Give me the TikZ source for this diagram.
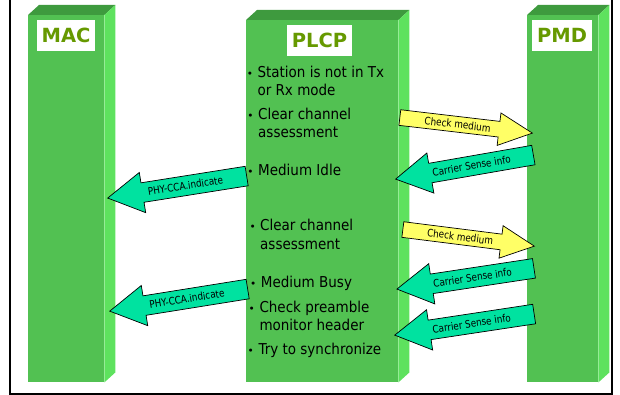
\documentclass[tikz,border=0pt]{standalone}
\usepackage{fontspec}
\setmainfont{DejaVu Sans}
\newfontfamily\condfont[FakeStretch=0.9]{DejaVu Sans}
\newfontfamily\narrowfont[FakeStretch=0.85]{DejaVu Sans}
\usetikzlibrary{shapes.arrows,calc}
\definecolor{barfront}{RGB}{82,193,82}
\definecolor{barside}{RGB}{94,226,94}
\definecolor{bartop}{RGB}{62,154,62}
\definecolor{lbltext}{RGB}{102,153,0}
\definecolor{chkyellow}{RGB}{255,255,102}
\definecolor{csteal}{RGB}{0,226,160}
\tikzset{
  barbody/.style={fill=barfront, draw=none, inner sep=0pt, anchor=north west},
  bartopface/.style={fill=bartop},
  barsideface/.style={fill=barside},
  lblbox/.style={fill=white, inner sep=0pt, text=lbltext, font=\fontsize{19.5}{20}\selectfont\bfseries},
  item/.style={inner sep=0pt, anchor=base west, font=\condfont\fontsize{15}{18}\selectfont},
  bul/.style={inner sep=0pt, anchor=base, font=\fontsize{10.5}{12}\selectfont},
  blk/.style={single arrow, draw=black, line width=0.7pt, inner sep=0pt, anchor=tail},
  chk/.style={blk, fill=chkyellow, inner ysep=7.5pt, single arrow head extend=8.5pt, single arrow tip angle=52},
  csi/.style={blk, fill=csteal, inner ysep=9.5pt, single arrow head extend=10.5pt, single arrow tip angle=60, shape border rotate=180},
  arrlbl/.style={inner sep=0pt, font=\narrowfont\fontsize{10.4}{12}\selectfont},
}
\begin{document}
\begin{tikzpicture}[x=1pt,y=-1pt]
\useasboundingbox (0,0) rectangle (620,395);
% frame
\draw[line width=2pt] (9.5,-3) -- (9.5,393.5) -- (611.5,393.5) -- (611.5,-3);
% bars
\node[barbody, minimum width=76pt, minimum height=367pt] (macbar) at (28,15) {};
\node[barbody, minimum width=152pt, minimum height=362pt] (plcpbar) at (246,20) {};
\node[barbody, minimum width=71pt, minimum height=367pt] (pmdbar) at (527,15) {};
\foreach \b in {macbar,plcpbar,pmdbar}{
  \fill[bartopface] (\b.north west) -- ++(11,-10) -- ($(\b.north east)+(11,-10)$) -- (\b.north east) -- cycle;
  \fill[barsideface] (\b.north east) -- ++(11,-10) -- ($(\b.south east)+(11,-10)$) -- (\b.south east) -- cycle;
}
% labels
\node[lblbox, minimum width=58pt, minimum height=31pt] (mac) at (66,35.5) {MAC};
\node[lblbox, minimum width=65pt, minimum height=31pt] (plcp) at (319.5,40.5) {PLCP};
\node[lblbox, minimum width=60pt, minimum height=31pt] (pmd) at (562,35.5) {PMD};
% PLCP text
\node[bul] (b1) at (250,77.7) {•};
\node[item] (t1) at (257.3,77.7) {Station is not in Tx};
\node[item] (t2) at (257.3,95.5) {or Rx mode};
\node[bul] (b2) at (250.5,119.3) {•};
\node[item] (t3) at (258,119.3) {Clear channel};
\node[item] (t4) at (258,137.7) {assessment};
\node[bul] (b3) at (250.5,175.7) {•};
\node[item] (t5) at (258,175.7) {Medium Idle};
\node[bul] (b4) at (252.7,230.7) {•};
\node[item] (t6) at (260,230.7) {Clear channel};
\node[item] (t7) at (260,249.3) {assessment};
\node[bul] (b5) at (253.3,287.3) {•};
\node[item] (t8) at (260.7,287.3) {Medium Busy};
\node[bul] (b6) at (251.7,312.7) {•};
\node[item] (t9) at (259.3,312.7) {Check preamble};
\node[item] (t10) at (259.3,330.7) {monitor header};
\node[bul] (b7) at (250.7,354) {•};
\node[item] (t11) at (258.3,354) {Try to synchronize};
% arrows
\node[chk, minimum height=133.4pt, rotate=-6.7] (cm1) at (399.5,117.5) {};
\node[arrlbl, rotate=-6.7] (cm1t) at ($(cm1.tail)!0.435!(cm1.tip)$) {Check medium};
\node[csi, minimum height=139.8pt, rotate=9.9] (cs1) at (533.7,155) {};
\node[arrlbl, rotate=9.9] (cs1t) at ($(cs1.tail)!0.448!(cs1.tip)$) {Carrier Sense info};
\node[csi, minimum height=140.7pt, rotate=9] (pc1) at (247,176) {};
\node[arrlbl, rotate=9] (pc1t) at ($(pc1.tail)!0.44!(pc1.tip)$) {PHY-CCA.indicate};
\node[chk, minimum height=132.5pt, rotate=-7.2] (cm2) at (402.5,229.5) {};
\node[arrlbl, rotate=-7.2] (cm2t) at ($(cm2.tail)!0.435!(cm2.tip)$) {Check medium};
\node[csi, minimum height=138.6pt, rotate=8.6] (cs2) at (534.3,268.3) {};
\node[arrlbl, rotate=8.6] (cs2t) at ($(cs2.tail)!0.448!(cs2.tip)$) {Carrier Sense info};
\node[csi, minimum height=141pt, rotate=8.6] (cs3) at (534.5,314) {};
\node[arrlbl, rotate=8.6] (cs3t) at ($(cs3.tail)!0.448!(cs3.tip)$) {Carrier Sense info};
\node[csi, minimum height=139.7pt, rotate=9.1] (pc2) at (248,289) {};
\node[arrlbl, rotate=9.1] (pc2t) at ($(pc2.tail)!0.44!(pc2.tip)$) {PHY-CCA.indicate};
\end{tikzpicture}
\end{document}
